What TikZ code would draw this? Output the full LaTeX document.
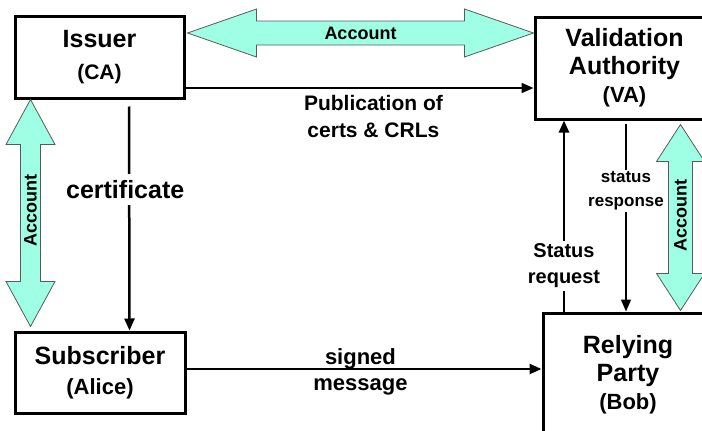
\documentclass[tikz,border=0pt]{standalone}
\usepackage{fontspec}
\setmainfont{Liberation Sans}
\usetikzlibrary{arrows.meta,calc}
\definecolor{acctfill}{RGB}{158,255,228}
\definecolor{acctline}{RGB}{90,90,90}

% double-headed "Account" arrow between two tips:
% #1 first tip, #2 second tip, #3 head length, #4 head half width, #5 shaft half width
\newcommand\acctarrow[5]{%
  \filldraw[acctfill, draw=acctline, line width=0.8pt, line join=miter]
    (#1) -- ($(#1)!#3!(#2)!#4!90:(#2)$) -- ($(#1)!#3!(#2)!#5!90:(#2)$)
    -- ($(#2)!#3!(#1)!#5!-90:(#1)$) -- ($(#2)!#3!(#1)!#4!-90:(#1)$)
    -- (#2)
    -- ($(#2)!#3!(#1)!#4!90:(#1)$) -- ($(#2)!#3!(#1)!#5!90:(#1)$)
    -- ($(#1)!#3!(#2)!#5!-90:(#2)$) -- ($(#1)!#3!(#2)!#4!-90:(#2)$)
    -- cycle;}

\newcommand\bigtxt[1]{{\fontsize{25}{28}\selectfont #1}}
\newcommand\smalltxt[1]{{\fontsize{22}{26}\selectfont #1}}

\begin{document}
\begin{tikzpicture}[x=1pt, y=-1pt, font=\bfseries,
  box/.style={draw, line width=3pt, align=center, inner sep=0pt, fill=white},
  conn/.style={line width=2.5pt, -{Triangle[length=12pt,width=10pt]}},
  lbl/.style={fill=white, inner sep=4pt, align=center},
  acct/.style={font=\fontsize{18}{20}\selectfont\bfseries, inner sep=0pt}]
\useasboundingbox (0,0) rectangle (702,431);

% parties
\node[box, minimum width=169pt, minimum height=82pt, font=\fontsize{25}{32}\selectfont\bfseries]
  (issuer) at (99.5,57)
  {\bigtxt{Issuer}\\{\fontsize{21}{24}\selectfont (CA)}};
\node[box, minimum width=179pt, minimum height=102pt, font=\fontsize{25}{28}\selectfont\bfseries]
  (va) at (624.5,68)
  {\bigtxt{Validation}\\\bigtxt{Authority}\\\smalltxt{(VA)}};
\node[box, minimum width=170pt, minimum height=123pt, font=\fontsize{25}{28}\selectfont\bfseries]
  (rp) at (628,374.5)
  {\bigtxt{Relying}\\\bigtxt{Party}\\\smalltxt{(Bob)}};
\node[box, minimum width=170pt, minimum height=81pt, font=\fontsize{25}{30}\selectfont\bfseries]
  (sub) at (100,372.5)
  {\bigtxt{Subscriber}\\\smalltxt{(Alice)}};

% account relationships
\coordinate (hA) at ([xshift=2pt, yshift=24pt]issuer.east);
\coordinate (hB) at (va.west |- hA);
\acctarrow{hA}{hB}{69pt}{24pt}{12pt}
\node[acct] at ($(hA)!0.5!(hB)$) {Account};

\coordinate (lA) at ([xshift=17pt]issuer.south west);
\coordinate (lB) at ([xshift=17pt, yshift=4pt]sub.north west);
\acctarrow{lA}{lB}{45pt}{24.5pt}{10pt}
\node[acct, rotate=90] at ($(lA)!0.49!(lB)$) {Account};

\coordinate (rA) at ([xshift=-35pt, yshift=-4pt]va.south east);
\coordinate (rB) at ([xshift=-34pt, yshift=1pt]rp.north east);
\acctarrow{rA}{rB}{37pt}{24pt}{12pt}
\node[acct, rotate=90] at ($(rA)!0.49!(rB)$) {Account};

% certificate issuance
\draw[conn] ([xshift=29.5pt, yshift=-7pt]issuer.south) --
  node[lbl, pos=0.37, xshift=-4pt, inner sep=6pt, font=\fontsize{25}{28}\selectfont\bfseries] {certificate}
  ([xshift=29.5pt]sub.north);

% publication to the validation authority
\draw[line width=2pt, -{Triangle[length=12pt,width=10pt]}] ([yshift=-31pt]issuer.east) --
  node[pos=0.54, below=6pt, align=center, inner sep=0pt, font=\fontsize{21}{27}\selectfont\bfseries]
  {Publication of\\certs \& CRLs}
  ([yshift=-31pt]issuer.east -| va.west);

% status request / response
\coordinate (sq) at (564,0);
\draw[conn] (sq |- rp.north) --
  node[lbl, pos=0.24, inner sep=3pt, font=\fontsize{20}{26}\selectfont\bfseries] {Status\\request}
  (sq |- va.south);

\coordinate (sr) at (626,0);
\draw[line width=1.2pt, -{Triangle[length=12pt,width=10pt]}] ([yshift=-3pt]sr |- va.south) --
  node[lbl, pos=0.36, inner sep=2pt, font=\fontsize{17}{24}\selectfont\bfseries] {status\\response}
  (sr |- rp.north);

% signed message
\draw[conn] ([yshift=3.5pt]sub.east) --
  node[pos=0.49, above=-1pt, inner sep=0pt, font=\fontsize{22}{26}\selectfont\bfseries] {signed}
  node[pos=0.49, below=8pt, inner sep=0pt, font=\fontsize{22}{26}\selectfont\bfseries] {message}
  ([yshift=3.5pt]sub.east -| rp.west);
\end{tikzpicture}
\end{document}
